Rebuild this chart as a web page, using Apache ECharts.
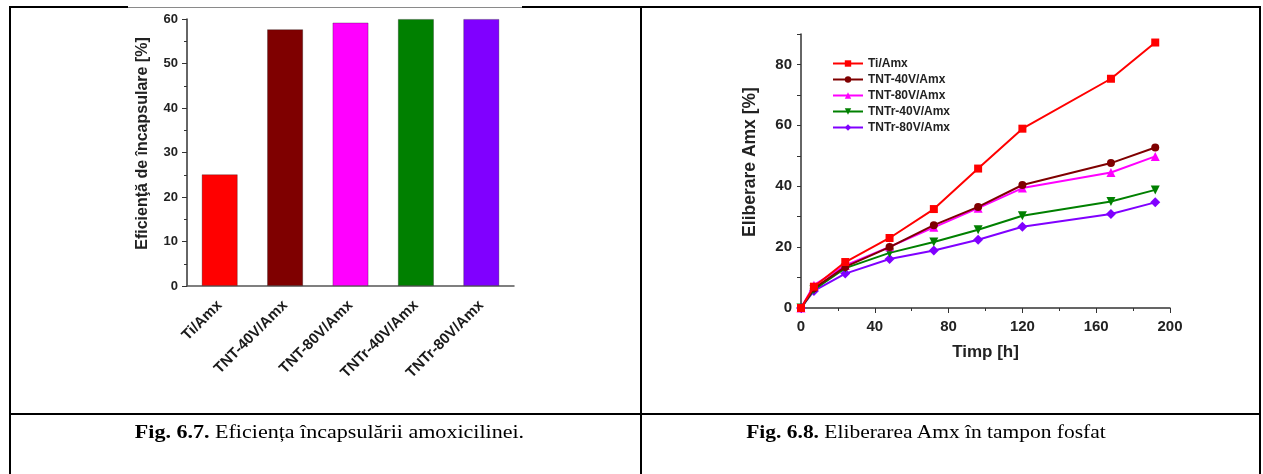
<!DOCTYPE html>
<html>
<head>
    <meta charset="utf-8">
    <title>Fig. 6.7 / Fig. 6.8</title>
    <script src="https://cdn.jsdelivr.net/npm/echarts@6/dist/echarts.min.js"></script>
    <style>
        body { margin: 0; background: #fff; }
        #page { position: relative; width: 1263px; height: 474px; overflow: hidden; }
        #main { position: absolute; left: 0; top: 0; width: 1263px; height: 474px; }
        .ln { position: absolute; background: #000; }
        .cap { position: absolute; top: 421px; text-align: center; transform: scaleX(1.13);
               font-family: "Liberation Serif", "DejaVu Serif", serif; font-size: 19px; color: #000; }
    </style>
</head>
<body>
<div id="page">
    <div id="main"></div>
    <!-- table lines -->
    <div class="ln" style="left:9px;top:6px;width:1252px;height:2px;"></div>
    <div class="ln" style="left:128px;top:6px;width:394px;height:2px;background:#fff;"></div>
    <div class="ln" style="left:128px;top:7px;width:394px;height:1px;background:#8a8a8a;"></div>
    <div class="ln" style="left:9px;top:6px;width:2px;height:468px;"></div>
    <div class="ln" style="left:640px;top:6px;width:2px;height:468px;"></div>
    <div class="ln" style="left:1259px;top:6px;width:2px;height:468px;"></div>
    <div class="ln" style="left:9px;top:413px;width:1252px;height:2px;"></div>
    <div class="cap" style="left:15px;width:629px;transform:scaleX(1.16);"><b>Fig. 6.7.</b> Eficiența încapsulării amoxicilinei.</div>
    <div class="cap" style="left:642px;width:568px;"><b>Fig. 6.8.</b> Eliberarea Amx în tampon fosfat</div>
</div>

<script type="text/javascript">
    // Fig. 6.7 - eficienta de incapsulare
    var samples = ['Ti/Amx', 'TNT-40V/Amx', 'TNT-80V/Amx', 'TNTr-40V/Amx', 'TNTr-80V/Amx'];
    var efficiency = [25.1, 57.7, 59.2, 60, 60];
    var colors = ['#ff0000', '#7f0000', '#ff00ff', '#008000', '#8000ff'];

    // Fig. 6.8 - eliberare Amx in timp
    var timeH = [0, 7, 24, 48, 72, 96, 120, 168, 192];
    var tiAmx = [0, 7, 15.1, 23, 32.5, 45.8, 58.9, 75.3, 87.2];
    var tnt40 = [0, 6.5, 13.5, 20, 27.2, 33.2, 40.4, 47.6, 52.7];
    var tnt80 = [0, 7.5, 14, 20.1, 26.5, 32.8, 39.4, 44.5, 49.8];
    var tntr40 = [0, 6, 13.1, 18.1, 21.7, 25.7, 30.3, 35, 38.8];
    var tntr80 = [0, 5.6, 11.3, 16.1, 18.9, 22.4, 26.7, 30.9, 34.7];
    var symbols = ['rect', 'circle', 'triangle', 'path://M0,0 L10,0 L5,9 Z', 'diamond'];
    var symbolSizes = [8, 8, 9, 9, 10];

    var font = '"Liberation Sans", Arial, sans-serif';
    var axisColor = '#333';

    function pairs(vals) {
        return timeH.map(function (t, i) { return [t, vals[i]]; });
    }

    var lineValues = [tiAmx, tnt40, tnt80, tntr40, tntr80];
    var lineSeries = lineValues.map(function (vals, i) {
        return {
            name: samples[i],
            type: 'line',
            xAxisIndex: 1,
            yAxisIndex: 1,
            data: pairs(vals),
            symbol: symbols[i],
            symbolSize: symbolSizes[i],
            showAllSymbol: true,
            lineStyle: { color: colors[i], width: 2 },
            itemStyle: { color: colors[i] },
            z: 10 - i
        };
    });

    var myChart = echarts.init(document.getElementById('main'));

    var option = {
        animation: false,
        textStyle: { fontFamily: font },
        grid: [
            { left: 187, top: 19, width: 327, height: 267 },
            { left: 801, top: 34, width: 369, height: 274 }
        ],
        legend: {
            data: samples,
            orient: 'vertical',
            left: 827,
            top: 52,
            itemWidth: 30,
            itemHeight: 8,
            itemGap: 3,
            textStyle: { fontFamily: font, fontSize: 12, fontWeight: 'bold', color: '#222', lineHeight: 13 }
        },
        xAxis: [{
            gridIndex: 0,
            type: 'category',
            data: samples,
            axisLine: { lineStyle: { color: '#555', width: 1.5 } },
            axisTick: { show: false },
            axisLabel: {
                rotate: 45, margin: 17, fontSize: 15, fontWeight: 'bold', color: '#1a1a1a', fontFamily: font
            }
        }, {
            gridIndex: 1,
            type: 'value',
            min: 0,
            max: 200,
            interval: 40,
            name: 'Timp [h]',
            nameLocation: 'middle',
            nameGap: 36,
            nameTextStyle: { fontSize: 17, fontWeight: 'bold', color: '#222', fontFamily: font },
            axisLine: { lineStyle: { color: axisColor, width: 1.5 } },
            axisTick: { length: 5, lineStyle: { color: axisColor } },
            minorTick: { show: true, splitNumber: 2, length: 3, lineStyle: { color: axisColor } },
            splitLine: { show: false },
            axisLabel: { margin: 11, fontSize: 15, fontWeight: 'bold', color: '#222', fontFamily: font }
        }],
        yAxis: [{
            gridIndex: 0,
            type: 'value',
            min: 0,
            max: 60,
            interval: 10,
            name: 'Eficienţă de încapsulare [%]',
            nameLocation: 'middle',
            nameGap: 36,
            nameTextStyle: { fontSize: 16, fontWeight: 'bold', color: '#222', fontFamily: font, padding: [0, 0, 0, 18] },
            axisLine: { show: true, lineStyle: { color: axisColor, width: 1.5 } },
            axisTick: { show: true, length: 5, lineStyle: { color: axisColor } },
            minorTick: { show: true, splitNumber: 2, length: 3, lineStyle: { color: axisColor } },
            splitLine: { show: false },
            axisLabel: { margin: 9, fontSize: 13, fontWeight: 'bold', color: '#222', fontFamily: font }
        }, {
            gridIndex: 1,
            type: 'value',
            min: 0,
            max: 90,
            interval: 10,
            name: 'Eliberare Amx [%]',
            nameLocation: 'middle',
            nameGap: 42,
            nameTextStyle: { fontSize: 17.5, fontWeight: 'bold', color: '#222', fontFamily: font, padding: [0, 0, 0, 18] },
            axisLine: { show: true, lineStyle: { color: axisColor, width: 1.5 } },
            axisTick: { show: true, length: 4, lineStyle: { color: axisColor } },
            splitLine: { show: false },
            axisLabel: {
                margin: 9, fontSize: 15, fontWeight: 'bold', color: '#222', fontFamily: font,
                formatter: function (v) { return v % 20 === 0 ? v : ''; }
            }
        }],
        series: [{
            type: 'bar',
            xAxisIndex: 0,
            yAxisIndex: 0,
            barWidth: '55%',
            data: efficiency.map(function (v, i) {
                return { value: v, itemStyle: { color: colors[i], borderColor: 'rgba(0,0,0,0.35)', borderWidth: 0.8 } };
            })
        }].concat(lineSeries)
    };

    if (option && typeof option === "object") {
        myChart.setOption(option, true);
    }
</script>
</body>
</html>
